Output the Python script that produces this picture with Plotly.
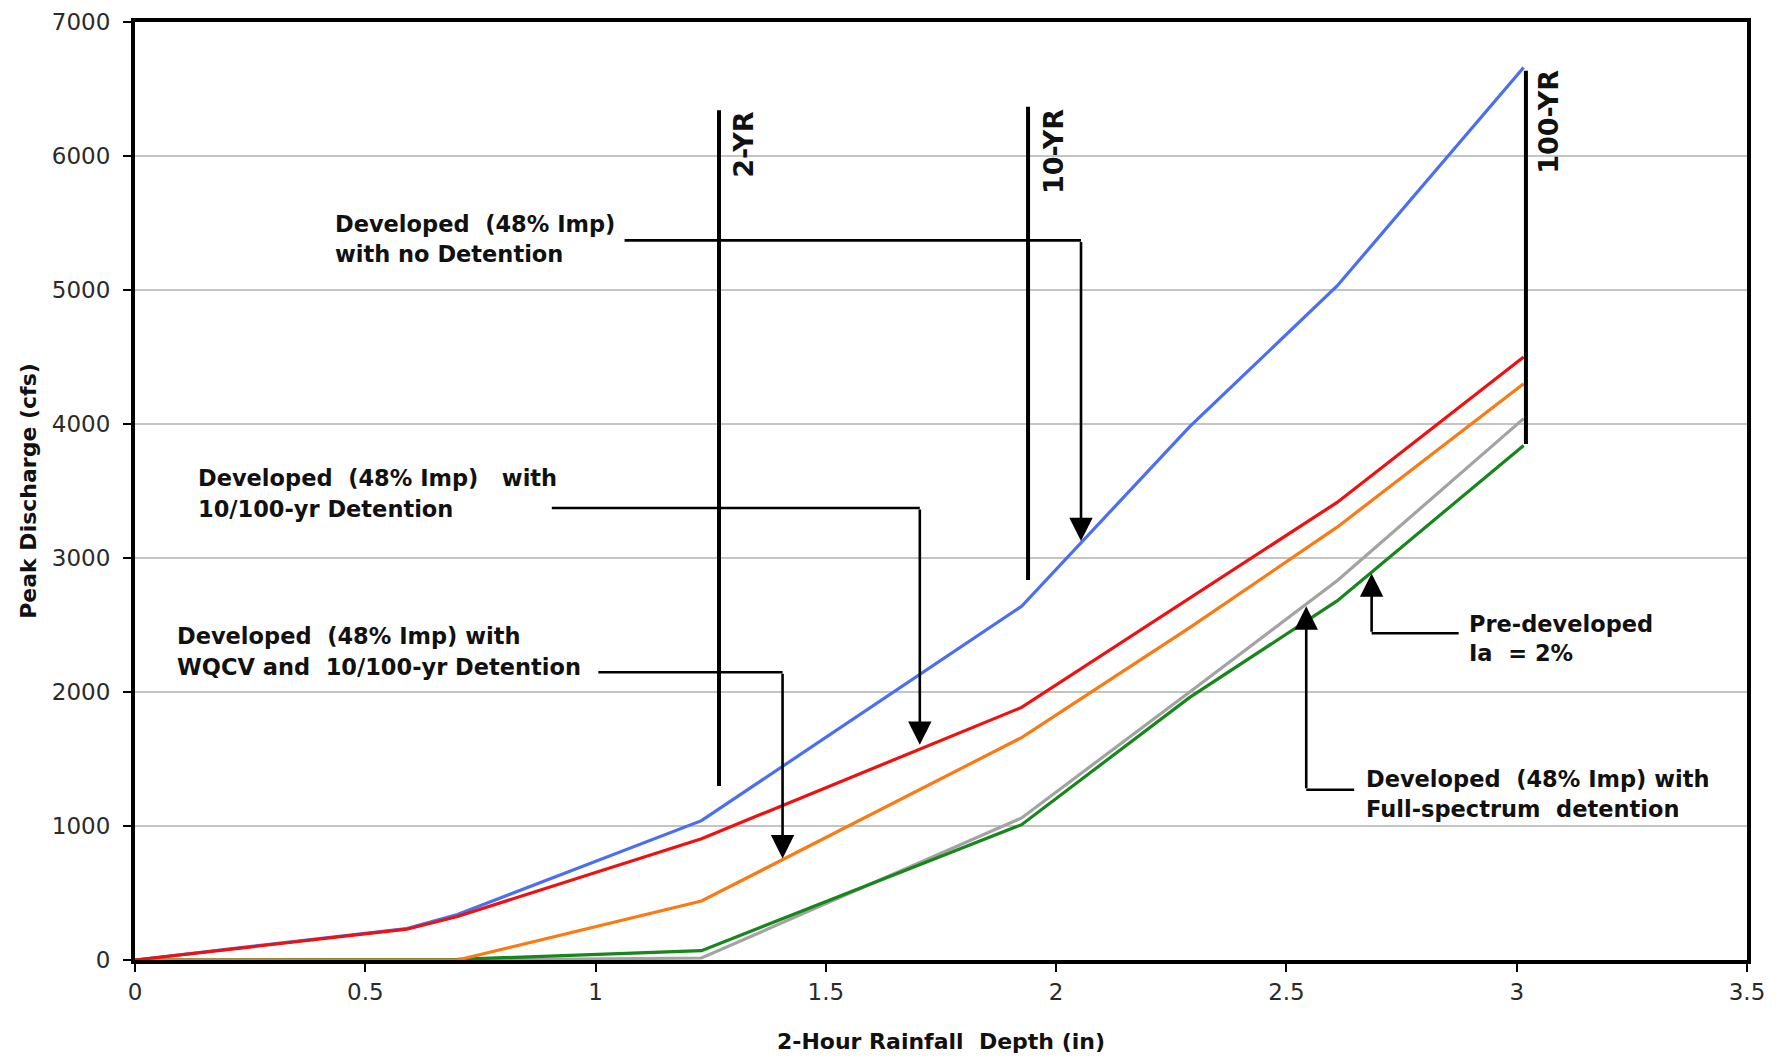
import plotly.graph_objects as go

# ---- data ----
rain_depth = [0, 0.59, 0.70, 1.23, 1.925, 2.29, 2.61, 3.015]
no_detention = [0, 235, 340, 1040, 2640, 3980, 5030, 6660]
detention_10_100 = [0, 230, 325, 905, 1885, 2700, 3415, 4500]
wqcv_10_100 = [0, 0, 0, 440, 1660, 2480, 3230, 4300]
pre_developed = [0, 0, 0, 15, 1060, 2000, 2830, 4040]
full_spectrum = [0, 0, 5, 70, 1010, 1960, 2680, 3840]

series = [
    ("Developed (48% Imp) with no Detention", no_detention, "#4a6ff0"),
    ("Pre-developed Ia = 2%", pre_developed, "#a3a3a3"),
    ("Developed (48% Imp) with Full-spectrum detention", full_spectrum, "#16871a"),
    ("Developed (48% Imp) with WQCV and 10/100-yr Detention", wqcv_10_100, "#fb7a12"),
    ("Developed (48% Imp) with 10/100-yr Detention", detention_10_100, "#f01010"),
]

x_ticks = [0, 0.5, 1, 1.5, 2, 2.5, 3, 3.5]
y_ticks = [0, 1000, 2000, 3000, 4000, 5000, 6000, 7000]

# return-period marker lines: label, x, y-bottom, y-top, label-x, label-y
return_periods = [
    ("2-YR", 1.268, 1298, 6342, 1.322, 6090),
    ("10-YR", 1.939, 2835, 6367, 1.993, 6036),
    ("100-YR", 3.020, 3851, 6637, 3.070, 6255),
]

# callouts: text lines, text-x, line y's, leader start x, corner x, corner y, tip y
callouts = [
    (["Developed  (48% Imp)", "with no Detention"], 0.430, [5489, 5268], 1.063, 2.054, 5370, 3126),
    (["Developed  (48% Imp)   with", "10/100-yr Detention"], 0.133, [3596, 3367], 0.905, 1.704, 3373, 1606),
    (["Developed  (48% Imp) with", "WQCV and  10/100-yr Detention"], 0.086, [2417, 2188], 1.006, 1.406, 2147, 758),
    (["Pre-developed", "Ia  = 2%"], 2.893, [2511, 2290], 2.874, 2.685, 2438, 2885),
    (["Developed  (48% Imp) with", "Full-spectrum  detention"], 2.668, [1348, 1128], 2.647, 2.543, 1271, 2640),
]

FONT = "DejaVu Sans, Liberation Sans, Arial, sans-serif"

fig = go.Figure()
for name, vals, color in series:
    fig.add_trace(go.Scatter(x=rain_depth, y=vals, mode="lines", name=name,
                             line=dict(color=color, width=3.2), showlegend=False))

shapes = []
annotations = []
for label, x, y0, y1, lx, ly in return_periods:
    shapes.append(dict(type="line", xref="x", yref="y", x0=x, x1=x, y0=y0, y1=y1,
                       line=dict(color="black", width=4)))
    annotations.append(dict(x=lx, y=ly, xref="x", yref="y", text="<b>%s</b>" % label,
                            textangle=-90, showarrow=False,
                            font=dict(family=FONT, size=27, color="#111")))

for lines, tx, tys, sx, cx, cy, tipy in callouts:
    for line, ty in zip(lines, tys):
        annotations.append(dict(x=tx, y=ty, xref="x", yref="y", text="<b>%s</b>" % line,
                                xanchor="left", yanchor="middle", align="left", showarrow=False,
                                font=dict(family=FONT, size=22.5, color="#111")))
    shapes.append(dict(type="line", xref="x", yref="y", x0=sx, x1=cx, y0=cy, y1=cy,
                       line=dict(color="black", width=2.6)))
    annotations.append(dict(x=cx, y=tipy, ax=cx, ay=cy, xref="x", yref="y",
                            axref="x", ayref="y", text="", showarrow=True,
                            arrowhead=2, arrowsize=1.8, arrowwidth=2.6, arrowcolor="black",
                            standoff=0, startstandoff=0))

fig.update_layout(
    width=1775, height=1051,
    margin=dict(l=127, r=36, t=14, b=99, autoexpand=False),
    paper_bgcolor="white", plot_bgcolor="white",
    font=dict(family=FONT, size=23, color="#222"),
    shapes=shapes, annotations=annotations,
)
fig.update_xaxes(range=[0, 3.5], tickvals=x_ticks, ticktext=[str(v) for v in x_ticks],
                 automargin=False, ticklabeloverflow="allow",
                 showgrid=False, zeroline=False, showline=True, linecolor="black", linewidth=4,
                 mirror=True, ticks="outside", ticklen=8, tickwidth=1.5, tickcolor="black",
                 tickfont=dict(size=23, color="#2a2a2a"),
                 title=dict(text="<b>2-Hour Rainfall  Depth (in)</b>", standoff=31,
                            font=dict(size=22, color="#111")))
fig.update_yaxes(range=[0, 7000], tickvals=y_ticks, showgrid=True, gridcolor="#c4c4c4", gridwidth=1.5,
                 automargin=False, ticklabeloverflow="allow",
                 zeroline=False, showline=True, linecolor="black", linewidth=4, mirror=True,
                 ticks="outside", ticklen=8, tickwidth=1.5, tickcolor="black",
                 ticklabelstandoff=8,
                 tickfont=dict(size=23, color="#2a2a2a"),
                 title=dict(text="<b>Peak Discharge (cfs)</b>", standoff=10,
                            font=dict(size=22, color="#111")))

fig.write_html("out.html")
